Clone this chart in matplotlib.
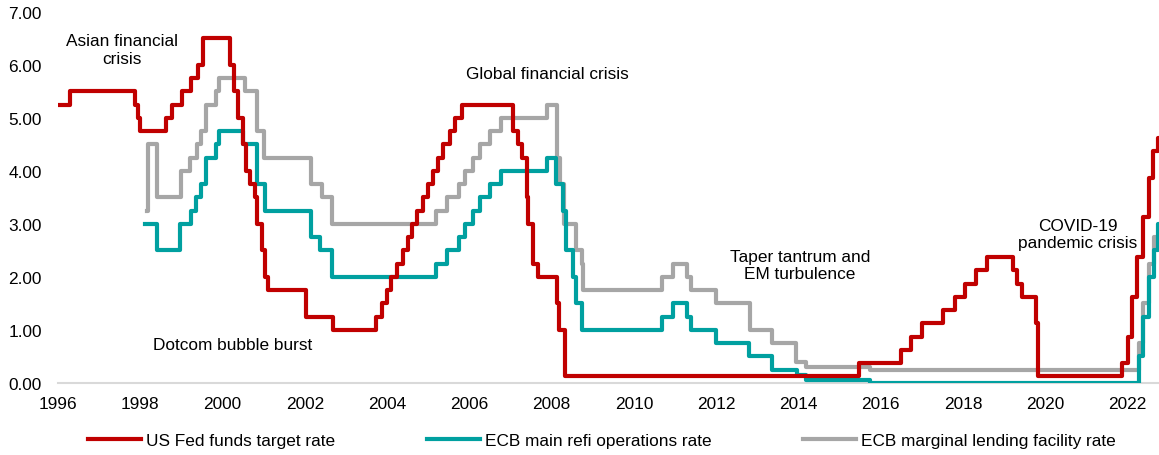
import matplotlib
matplotlib.use("Agg")
import matplotlib.pyplot as plt

plt.rcParams["font.family"] = ["Liberation Sans", "DejaVu Sans"]

# policy rates (decimal year, rate in %)
fed_x = [1996.0, 1996.29, 1997.87, 1997.94, 1997.99, 1998.62, 1998.77, 1999.01,
         1999.23, 1999.40, 1999.52, 2000.18, 2000.28, 2000.37, 2000.49, 2000.57,
         2000.67, 2000.79, 2000.84, 2000.97, 2001.03, 2001.10, 2002.04, 2002.68,
         2003.74, 2003.87, 2003.99, 2004.09, 2004.23, 2004.39, 2004.51, 2004.60,
         2004.72, 2004.88, 2005.00, 2005.12, 2005.24, 2005.36, 2005.53, 2005.65,
         2005.81, 2007.05, 2007.17, 2007.27, 2007.39, 2007.43, 2007.55, 2007.67,
         2008.12, 2008.18, 2008.32, 2015.47, 2016.50, 2016.74, 2017.00, 2017.50,
         2017.80, 2018.04, 2018.32, 2018.57, 2019.20, 2019.32, 2019.44, 2019.78,
         2019.82, 2021.87, 2022.01, 2022.11, 2022.23, 2022.37, 2022.52, 2022.62,
         2022.74, 2022.80]
fed_y = [5.25, 5.5, 5.25, 5.0, 4.75, 5.0, 5.25, 5.5,
         5.75, 6.0, 6.5, 6.0, 5.5, 5.0, 4.5, 4.0,
         3.75, 3.5, 3.0, 2.5, 2.0, 1.75, 1.25, 1.0,
         1.25, 1.5, 1.75, 2.0, 2.25, 2.5, 2.75, 3.0,
         3.25, 3.5, 3.75, 4.0, 4.25, 4.5, 4.75, 5.0,
         5.25, 4.75, 4.5, 4.25, 3.5, 3.0, 2.25, 2.0,
         1.5, 1.0, 0.125, 0.375, 0.625, 0.875, 1.125, 1.375,
         1.625, 1.875, 2.125, 2.375, 2.125, 1.875, 1.625, 1.125,
         0.125, 0.375, 0.875, 1.625, 2.375, 3.125, 3.875, 4.375,
         4.625, 4.625]

mro_x = [1998.11, 1998.40, 1998.96, 1999.23, 1999.35, 1999.48, 1999.60, 1999.84,
         1999.92, 2000.50, 2000.84, 2001.03, 2002.14, 2002.38, 2002.65, 2005.20,
         2005.45, 2005.75, 2005.89, 2006.09, 2006.26, 2006.50, 2006.77, 2007.88,
         2008.10, 2008.28, 2008.34, 2008.52, 2008.60, 2008.73, 2010.67, 2010.95,
         2011.28, 2011.38, 2011.99, 2012.80, 2013.36, 2013.97, 2014.18, 2015.73,
         2022.28, 2022.37, 2022.52, 2022.63, 2022.73, 2022.80]
mro_y = [3.0, 2.5, 3.0, 3.25, 3.5, 3.75, 4.25, 4.5,
         4.75, 4.5, 3.75, 3.25, 2.75, 2.5, 2.0, 2.25,
         2.5, 2.75, 3.0, 3.25, 3.5, 3.75, 4.0, 4.25,
         3.75, 3.25, 2.5, 2.0, 1.5, 1.0, 1.25, 1.5,
         1.25, 1.0, 0.75, 0.5, 0.25, 0.15, 0.05, 0.0,
         0.5, 1.25, 2.0, 2.5, 3.0, 3.0]

mlf_x = [1998.16, 1998.18, 1998.40, 1998.98, 1999.22, 1999.37, 1999.48, 1999.60,
         1999.84, 1999.92, 2000.54, 2000.84, 2001.01, 2002.14, 2002.41, 2002.65,
         2005.20, 2005.45, 2005.75, 2005.89, 2006.09, 2006.26, 2006.50, 2006.77,
         2007.88, 2008.12, 2008.20, 2008.30, 2008.60, 2008.73, 2008.75, 2010.67,
         2010.95, 2011.28, 2011.38, 2011.99, 2012.82, 2013.36, 2013.93, 2014.18,
         2015.73, 2022.28, 2022.37, 2022.52, 2022.63, 2022.80]
mlf_y = [3.25, 4.5, 3.5, 4.0, 4.25, 4.5, 4.75, 5.25,
         5.5, 5.75, 5.5, 4.75, 4.25, 3.75, 3.5, 3.0,
         3.25, 3.5, 3.75, 4.0, 4.25, 4.5, 4.75, 5.0,
         5.25, 4.25, 3.75, 3.0, 2.5, 2.25, 1.75, 2.0,
         2.25, 2.0, 1.75, 1.5, 1.0, 0.75, 0.4, 0.3,
         0.25, 0.75, 1.5, 2.25, 2.75, 2.75]

years = list(range(1996, 2023, 2))
yticks = [0, 1, 2, 3, 4, 5, 6, 7]

fig = plt.figure(figsize=(11.59, 4.56), dpi=100)
ax = fig.add_axes([0.050, 0.158, 0.950, 0.8135])

l3, = ax.step(mlf_x, mlf_y, where="post", color="#A6A6A6", lw=3, zorder=2)
l2, = ax.step(mro_x, mro_y, where="post", color="#00A0A0", lw=3, zorder=3)
l1, = ax.step(fed_x, fed_y, where="post", color="#C00000", lw=3, zorder=4)

fs = 12.4
ax.set_xlim(1996, 2022.76)
ax.set_ylim(0, 7)
ax.set_xticks(years)
ax.set_xticklabels([str(y) for y in years])
ax.set_yticks(yticks)
ax.set_yticklabels([f"{v:.2f}" for v in yticks])
ax.tick_params(length=0, labelsize=fs, colors="#000000")
ax.tick_params(axis="y", pad=11.5)
ax.tick_params(axis="x", pad=9.5)
for s in ["top", "right", "left"]:
    ax.spines[s].set_visible(False)
ax.spines["bottom"].set_color("#D9D9D9")
ax.spines["bottom"].set_linewidth(1.5)
ax.spines["bottom"].set_zorder(1)

# event labels
ax.text(1997.56, 6.29, "Asian financial\ncrisis", ha="center", va="center", fontsize=fs, linespacing=1.2)
ax.text(2007.9, 5.83, "Global financial crisis", ha="center", va="center", fontsize=fs)
ax.text(2000.25, 0.73, "Dotcom bubble burst", ha="center", va="center", fontsize=fs)
ax.text(2014.03, 2.23, "Taper tantrum and\nEM turbulence", ha="center", va="center", fontsize=fs, linespacing=1.2)
ax.text(2020.79, 2.81, "COVID-19\npandemic crisis", ha="center", va="center", fontsize=fs, linespacing=1.2)

fig.legend([l1, l2, l3],
           ["US Fed funds target rate", "ECB main refi operations rate",
            "ECB marginal lending facility rate"],
           loc="center", bbox_to_anchor=(602 / 1159, 1 - 441 / 456), ncol=3,
           frameon=False, fontsize=fs, handlelength=3.08, handletextpad=0.3,
           columnspacing=5.3, borderpad=0)

fig.savefig("out.png", dpi=100)
